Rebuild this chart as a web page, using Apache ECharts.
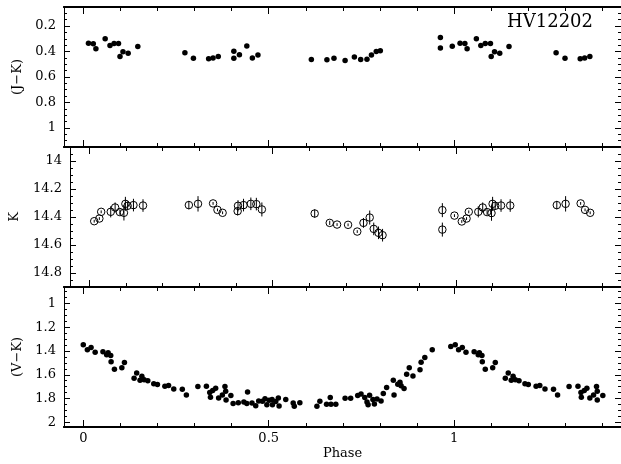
<!DOCTYPE html>
<html><head><meta charset="utf-8">
<script src="https://cdn.jsdelivr.net/npm/echarts@6/dist/echarts.min.js"></script>
<style>html,body{margin:0;padding:0;background:#fff}#c{width:621px;height:464px}</style>
</head><body><div id="c"></div>
<script>
// ---- data ----
const jkPhase=[0.014,0.027,0.034,0.059,0.072,0.083,0.095,0.099,0.107,0.121,0.147,0.274,0.297,0.338,0.350,0.364,0.406,0.406,0.421,0.441,0.456,0.471,0.615,0.657,0.676,0.706,0.731,0.748,0.765,0.777,0.790,0.801,0.963,0.963,0.995,1.016,1.029,1.035,1.060,1.072,1.084,1.098,1.100,1.109,1.123,1.148,1.275,1.299,1.340,1.352,1.366];
const jkVal=[0.334,0.339,0.379,0.300,0.353,0.337,0.337,0.439,0.402,0.413,0.360,0.410,0.452,0.457,0.450,0.439,0.397,0.452,0.426,0.357,0.450,0.428,0.463,0.465,0.452,0.471,0.442,0.463,0.460,0.428,0.400,0.394,0.290,0.373,0.358,0.334,0.337,0.379,0.300,0.353,0.337,0.337,0.439,0.402,0.413,0.360,0.410,0.452,0.457,0.450,0.439];

const kPhase=[0.014,0.028,0.033,0.059,0.071,0.084,0.095,0.099,0.105,0.121,0.147,0.272,0.297,0.338,0.350,0.364,0.405,0.406,0.421,0.441,0.456,0.471,0.615,0.656,0.676,0.706,0.731,0.748,0.765,0.776,0.789,0.800,0.963,0.963,0.996,1.016,1.029,1.035,1.061,1.073,1.085,1.097,1.100,1.107,1.123,1.148,1.275,1.299,1.340,1.352,1.366];
const kMag=[14.430,14.411,14.363,14.363,14.332,14.365,14.370,14.306,14.320,14.315,14.318,14.315,14.306,14.303,14.349,14.370,14.358,14.320,14.315,14.306,14.308,14.346,14.375,14.442,14.454,14.456,14.504,14.442,14.404,14.485,14.513,14.530,14.351,14.490,14.390,14.432,14.411,14.363,14.363,14.332,14.365,14.372,14.306,14.320,14.318,14.318,14.315,14.306,14.303,14.349,14.370];
const kErr=[0.01,0.01,0.01,0.04,0.036,0.02,0.055,0.05,0.03,0.045,0.045,0.03,0.055,0.01,0.01,0.01,0.03,0.04,0.045,0.045,0.045,0.05,0.03,0.015,0.01,0.01,0.01,0.035,0.05,0.045,0.045,0.045,0.05,0.05,0.01,0.01,0.01,0.01,0.04,0.036,0.02,0.055,0.05,0.03,0.045,0.045,0.03,0.055,0.01,0.01,0.01];

const vkPhase=[0.000,0.011,0.021,0.032,0.053,0.063,0.067,0.074,0.075,0.084,0.104,0.111,0.137,0.144,0.153,0.158,0.164,0.174,0.190,0.200,0.220,0.230,0.244,0.267,0.278,0.309,0.332,0.341,0.343,0.349,0.357,0.365,0.375,0.382,0.384,0.385,0.398,0.404,0.418,0.433,0.443,0.441,0.455,0.465,0.473,0.483,0.490,0.495,0.501,0.509,0.510,0.519,0.526,0.528,0.546,0.566,0.569,0.584,0.630,0.638,0.656,0.666,0.668,0.681,0.706,0.721,0.740,
0.749,0.759,0.765,0.768,0.772,0.781,0.785,0.792,0.803,0.809,0.818,0.838,0.836,0.848,0.854,0.857,0.865,0.872,0.879,0.889,0.908,0.911,0.921,0.941,0.991,1.003,1.012,1.022,1.032,1.054,1.065,1.068,1.075,1.076,1.084,1.104,1.111,1.138,1.146,1.154,1.159,1.165,1.175,1.191,1.200,1.221,1.231,1.245,1.268,1.279,1.310,1.334,1.342,1.343,1.351,1.358,1.366,1.376,1.384,1.386,1.386,1.401];
const vkVal=[1.347,1.389,1.370,1.409,1.406,1.432,1.415,1.438,1.491,1.554,1.540,1.497,1.630,1.585,1.647,1.613,1.642,1.650,1.676,1.681,1.696,1.690,1.719,1.721,1.770,1.699,1.696,1.750,1.790,1.733,1.713,1.796,1.770,1.699,1.738,1.812,1.775,1.841,1.835,1.830,1.744,1.841,1.838,1.860,1.821,1.824,1.801,1.852,1.815,1.809,1.852,1.826,1.796,1.864,1.809,1.838,1.866,1.835,1.866,1.824,1.849,1.792,1.849,1.849,1.798,1.798,1.775,
1.761,1.792,1.830,1.852,1.773,1.809,1.846,1.804,1.821,1.758,1.707,1.770,1.645,1.679,1.662,1.693,1.716,1.596,1.540,1.611,1.557,1.494,1.455,1.389,1.361,1.347,1.389,1.370,1.409,1.406,1.432,1.415,1.438,1.491,1.554,1.540,1.497,1.630,1.585,1.647,1.613,1.642,1.650,1.676,1.681,1.696,1.690,1.719,1.721,1.770,1.699,1.696,1.750,1.790,1.733,1.713,1.796,1.770,1.699,1.738,1.812,1.775];

// ---- tick labels ----
const xTickLabels=[0,0.5,1];
const jkTickLabels=[0.2,0.4,0.6,0.8,1];
const kTickLabels=[14,14.2,14.4,14.6,14.8];
const vkTickLabels=[1,1.2,1.4,1.6,1.8,2];
const starName='HV12202';
const xName='Phase';
const yNames=['(J\u2212K)','K','(V\u2212K)'];

// ---- layout / style ----
function steps(lo,hi,step){const o=[];for(let v=lo;v<=hi+1e-9;v+=step)o.push(+v.toFixed(4));return o;}
const FONT='DejaVu Serif';
const X_MIN=-0.052, X_MAX=1.45;
const xMinor=steps(0,1.4,0.1);
const grids=[{left:64,width:557,top:7,height:140},{left:64,width:557,top:147,height:140},{left:64,width:557,top:287,height:140}];
const yRanges=[[0.05,1.15],[13.9,14.9],[0.86,2.04]];
const yLabels=[jkTickLabels,kTickLabels,vkTickLabels];
const yMinor=[steps(0.05,1.15,0.05),steps(13.9,14.9,0.05),steps(0.9,2.0,0.05)];
const yNameGaps=[39,49,39];

const xAxes=[],yAxes=[];
for(let g=0;g<3;g++){
  const last=(g===2);
  const mkX=(pos,ticks,len,lab)=>{
    const a={type:'value',gridIndex:g,position:pos,min:X_MIN,max:X_MAX,
      splitLine:{show:false},
      axisLine:{show:true,onZero:false,lineStyle:{color:'#000',width:2}},
      axisTick:{show:true,inside:true,length:len,customValues:ticks,lineStyle:{color:'#000',width:1}},
      axisLabel:{show:false}};
    if(lab){
      a.axisLabel={show:true,customValues:xTickLabels,color:'#000',fontFamily:FONT,fontSize:13,margin:5};
      a.name=xName;a.nameLocation='middle';a.nameGap=20;
      a.nameTextStyle={color:'#000',fontFamily:FONT,fontSize:13};
    }
    return a;
  };
  xAxes.push(mkX('bottom',xTickLabels,7,last));
  xAxes.push(mkX('bottom',xMinor,4,false));
  xAxes.push(mkX('top',xTickLabels,7,false));
  xAxes.push(mkX('top',xMinor,4,false));
  const mkY=(pos,ticks,len,lab,lw)=>{
    const a={type:'value',gridIndex:g,position:pos,inverse:true,min:yRanges[g][0],max:yRanges[g][1],
      splitLine:{show:false},
      axisLine:{show:true,onZero:false,lineStyle:{color:'#000',width:lw}},
      axisTick:{show:true,inside:true,length:len,customValues:ticks,lineStyle:{color:'#000',width:1}},
      axisLabel:{show:false}};
    if(lab){
      a.axisLabel={show:true,customValues:yLabels[g],color:'#000',fontFamily:FONT,fontSize:13,margin:8};
      a.name=yNames[g];a.nameLocation='middle';a.nameGap=yNameGaps[g];
      a.nameTextStyle={color:'#000',fontFamily:FONT,fontSize:13};
    }
    return a;
  };
  yAxes.push(mkY('left',yLabels[g],6,true,1));
  yAxes.push(mkY('left',yMinor[g],3,false,1));
  yAxes.push(mkY('right',yLabels[g],6,false,1));
  yAxes.push(mkY('right',yMinor[g],3,false,1));
}

const chart=echarts.init(document.getElementById('c'),null,{renderer:'canvas'});
chart.setOption({
  animation:false,
  backgroundColor:'#fff',
  grid:grids,
  xAxis:xAxes,
  yAxis:yAxes,
  graphic:[{type:'text',x:593,y:22,style:{text:starName,font:'18px "DejaVu Serif"',fill:'#000',align:'right',verticalAlign:'middle'}}],
  series:[
    {type:'scatter',xAxisIndex:0,yAxisIndex:0,symbol:'circle',symbolSize:5.5,
      itemStyle:{color:'#000',opacity:1},data:jkPhase.map((p,i)=>[p,jkVal[i]])},
    {type:'custom',xAxisIndex:4,yAxisIndex:4,coordinateSystem:'cartesian2d',
      encode:{x:0,y:1},
      data:kPhase.map((p,i)=>[p,kMag[i],kErr[i]]),
      renderItem:function(params,api){
        const x=api.value(0),y=api.value(1),e=api.value(2);
        const a=api.coord([x,y-e]),b=api.coord([x,y+e]);
        return {type:'line',shape:{x1:a[0],y1:a[1],x2:b[0],y2:b[1]},style:{stroke:'#000',lineWidth:1}};
      }},
    {type:'scatter',xAxisIndex:4,yAxisIndex:4,symbol:'circle',symbolSize:7.5,
      itemStyle:{color:'rgba(0,0,0,0)',borderColor:'#000',borderWidth:1,opacity:1},
      data:kPhase.map((p,i)=>[p,kMag[i]])},
    {type:'scatter',xAxisIndex:8,yAxisIndex:8,symbol:'circle',symbolSize:5.5,
      itemStyle:{color:'#000',opacity:1},data:vkPhase.map((p,i)=>[p,vkVal[i]])}
  ]
});
</script>
</body></html>
